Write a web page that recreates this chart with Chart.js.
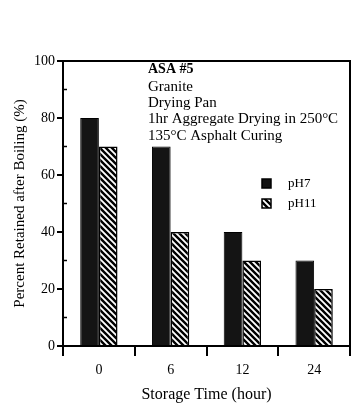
<!DOCTYPE html>
<html>
<head>
<meta charset="utf-8">
<script src="https://cdn.jsdelivr.net/npm/chart.js@4/dist/chart.umd.min.js"></script>
<style>
  html, body { margin: 0; padding: 0; background: #fff; }
  #wrap { width: 352px; height: 406px; position: relative; }
</style>
</head>
<body>
<div id="wrap"><canvas id="chart" width="352" height="406"></canvas></div>
<script>
// ── data ──
const storageTimes = ['0', '6', '12', '24'];
const ph7Values  = [80, 70, 40, 30];
const ph11Values = [70, 40, 30, 20];
const seriesNames = ['pH7', 'pH11'];
const notes = ['ASA #5', 'Granite', 'Drying Pan', '1hr Aggregate Drying in 250°C', '135°C Asphalt Curing'];

const SERIF = '"Liberation Serif", "DejaVu Serif", serif';

// hatch "\\\\" pattern for pH11
function hatch() {
  const c = document.createElement('canvas');
  c.width = 6; c.height = 6;
  const g = c.getContext('2d');
  g.fillStyle = '#fff';
  g.fillRect(0, 0, 6, 6);
  g.strokeStyle = '#000';
  g.lineWidth = 2.4;
  g.beginPath();
  g.moveTo(-3, -3); g.lineTo(9, 9);
  g.moveTo(-3, 3);  g.lineTo(3, 9);
  g.moveTo(3, -3);  g.lineTo(9, 3);
  g.stroke();
  return g.createPattern(c, 'repeat');
}
const hatchFill = hatch();

// frame, minor ticks, notes, legend
const extras = {
  id: 'extras',
  afterDraw(chart) {
    const { ctx, chartArea: a, scales: { y } } = chart;
    ctx.save();
    ctx.strokeStyle = '#000';
    ctx.lineWidth = 2;
    ctx.beginPath();
    ctx.moveTo(a.left - 5, a.top); ctx.lineTo(a.right, a.top); ctx.lineTo(a.right, a.bottom);
    ctx.stroke();

    ctx.lineWidth = 1.5;
    [10, 30, 50, 70, 90].forEach(v => {
      const py = y.getPixelForValue(v);
      ctx.beginPath(); ctx.moveTo(a.left, py); ctx.lineTo(a.left + 4, py); ctx.stroke();
    });

    ctx.fillStyle = '#000';
    ctx.textBaseline = 'middle';
    ctx.textAlign = 'left';
    const lineY = [69, 87, 103, 119, 136];
    notes.forEach((t, i) => {
      ctx.font = (i === 0 ? 'bold 14px ' : '15px ') + SERIF;
      ctx.fillText(t, 148, lineY[i]);
    });

    const fills = chart.data.datasets.map(d => d.backgroundColor);
    const legY = [184, 204];
    ctx.font = '13px ' + SERIF;
    seriesNames.forEach((n, i) => {
      ctx.fillStyle = fills[i];
      ctx.fillRect(262, legY[i] - 5, 9, 9);
      ctx.lineWidth = 1.5;
      ctx.strokeRect(262, legY[i] - 5, 9, 9);
      ctx.fillStyle = '#000';
      ctx.fillText(n, 288, legY[i]);
    });
    ctx.restore();
  }
};

new Chart(document.getElementById('chart'), {
  type: 'bar',
  data: {
    labels: storageTimes,
    datasets: [
      { label: seriesNames[0], data: ph7Values, backgroundColor: '#141414',
        borderColor: '#000', borderWidth: 1, categoryPercentage: 0.52, barPercentage: 1 },
      { label: seriesNames[1], data: ph11Values, backgroundColor: hatchFill,
        borderColor: '#000', borderWidth: 1.5, categoryPercentage: 0.52, barPercentage: 1 }
    ]
  },
  options: {
    responsive: false,
    animation: false,
    layout: { padding: { top: 61, right: 2, left: 0, bottom: 0 } },
    plugins: { legend: { display: false }, tooltip: { enabled: false } },
    scales: {
      x: {
        afterFit: s => { s.height = 60; },
        border: { color: '#000', width: 2 },
        grid: { drawOnChartArea: false, color: '#000', tickLength: 10, lineWidth: 2 },
        ticks: { color: '#000', font: { family: SERIF, size: 14 }, padding: 6 },
        title: { display: true, text: 'Storage Time (hour)', color: '#000',
                 font: { family: SERIF, size: 16 }, padding: { top: 0, bottom: 2 } }
      },
      y: {
        min: 0, max: 100,
        afterFit: s => { s.width = 63; },
        border: { color: '#000', width: 2 },
        grid: { drawOnChartArea: false, tickLength: 6, lineWidth: 2,
                color: c => (c.tick && c.tick.value % 20 === 0) ? '#000' : 'rgba(0,0,0,0)' },
        ticks: { stepSize: 10, color: '#000', font: { family: SERIF, size: 14 }, padding: 2,
                 callback: v => (v % 20 === 0 ? v : '') },
        title: { display: true, text: 'Percent Retained after Boiling (%)', color: '#000',
                 font: { family: SERIF, size: 15 }, padding: { top: 11, bottom: 0 } }
      }
    }
  },
  plugins: [extras]
});
</script>
</body>
</html>
